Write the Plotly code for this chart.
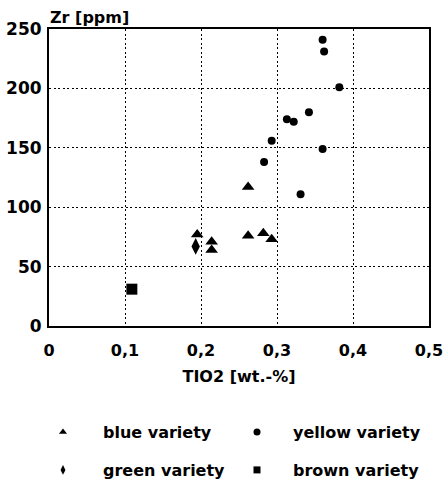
import plotly.graph_objects as go

# --- data ---
blue_x = [0.195, 0.214, 0.214, 0.262, 0.262, 0.282, 0.293]
blue_y = [77, 71, 64, 117, 76, 78, 73]

yellow_x = [0.360, 0.362, 0.382, 0.313, 0.322, 0.342, 0.293, 0.360, 0.283, 0.331]
yellow_y = [241, 231, 201, 174, 172, 180, 156, 149, 138, 111]

green_x = [0.193]
green_y = [67]

brown_x = [0.109]
brown_y = [31]

x_tickvals = [0, 0.1, 0.2, 0.3, 0.4, 0.5]
x_ticktext = ["0", "0,1", "0,2", "0,3", "0,4", "0,5"]
y_tickvals = [0, 50, 100, 150, 200, 250]

series = [
    ("blue variety", blue_x, blue_y, "triangle-up", 11, "legend"),
    ("yellow variety", yellow_x, yellow_y, "circle", 8, "legend2"),
    ("green variety", green_x, green_y, "diamond-tall", 12, "legend3"),
    ("brown variety", brown_x, brown_y, "square", 11, "legend4"),
]

FONT = "DejaVu Sans, sans-serif"
fig = go.Figure()
for name, xs, ys, sym, size, lg in series:
    fig.add_trace(go.Scatter(x=xs, y=ys, mode="markers", name=name, showlegend=False,
                             hoverinfo="x+y",
                             marker=dict(symbol=sym, size=size, color="black")))
for name, xs, ys, sym, size, lg in series:
    fig.add_trace(go.Scatter(x=[None], y=[None], mode="markers", name=name, legend=lg,
                             marker=dict(symbol=sym, size=7, color="black")))

axis_common = dict(showline=True, linecolor="black", linewidth=2, mirror=True,
                   showgrid=True, gridcolor="black", gridwidth=1, griddash="2px,2.5px",
                   zeroline=False, ticks="", automargin=False)

legend_common = dict(orientation="h", xref="container", yref="container",
                     xanchor="left", yanchor="middle",
                     font=dict(size=16, family=FONT, weight="bold", color="black"),
                     borderwidth=0, bgcolor="rgba(0,0,0,0)")

col1, col2 = 23 / 447, 221 / 447
row1, row2 = 1 - 432 / 483, 1 - 470 / 483

fig.update_layout(
    width=447, height=483,
    margin=dict(l=49, r=18, t=29, b=157),
    paper_bgcolor="white", plot_bgcolor="white",
    font=dict(family=FONT, color="black", weight="bold"),
    xaxis=dict(range=[0, 0.5], tickvals=x_tickvals, ticktext=x_ticktext,
               tickfont=dict(size=16, family=FONT, color="black", weight="bold"),
               ticklabelstandoff=9,
               title=dict(text="TIO2 [wt.-%]", font=dict(size=16, family=FONT, weight="bold"), standoff=12),
               **axis_common),
    yaxis=dict(range=[0, 250], tickvals=y_tickvals,
               tickfont=dict(size=17, family=FONT, color="black", weight="bold"),
               ticklabelstandoff=2,
               **axis_common),
    legend=dict(x=col1, y=row1, itemwidth=70, **legend_common),
    legend2=dict(x=col2, y=row1, itemwidth=62, **legend_common),
    legend3=dict(x=col1, y=row2, itemwidth=70, **legend_common),
    legend4=dict(x=col2, y=row2, itemwidth=62, **legend_common),
    annotations=[dict(text="Zr [ppm]", xref="paper", yref="paper", x=-0.003, y=1.0,
                      xanchor="left", yanchor="bottom", showarrow=False,
                      font=dict(size=16, family=FONT, weight="bold"))],
)

fig.write_html("out.html", config={"displayModeBar": False},
               post_script="document.body.style.margin='0';document.body.style.overflow='hidden';")
